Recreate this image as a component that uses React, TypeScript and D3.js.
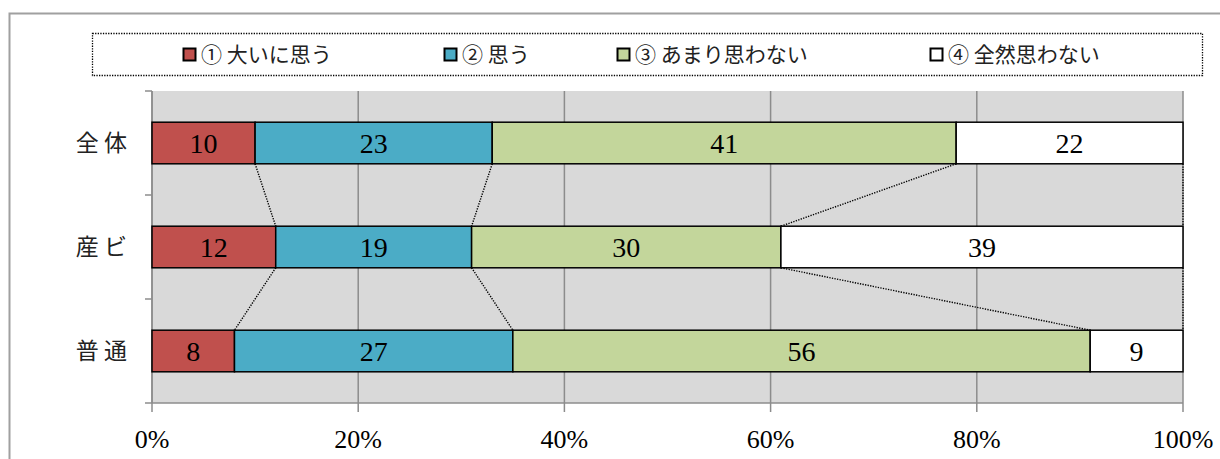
import React from "react";
import * as d3 from "d3";

const categories = ["全 体", "産 ビ", "普 通"];
const seriesNames = ["① 大いに思う", "② 思う", "③ あまり思わない", "④ 全然思わない"];
const seriesColors = ["#c0504d", "#4bacc6", "#c3d69b", "#ffffff"];
// bar lengths (percent) as drawn in the picture
const barValues = [
  [10, 23, 45, 22],
  [12, 19, 30, 39],
  [8, 27, 56, 9],
];
// data labels as printed in the picture
const labelValues = [
  [10, 23, 41, 22],
  [12, 19, 30, 39],
  [8, 27, 56, 9],
];
const xTicks = [0, 20, 40, 60, 80, 100];
const legendX = [183, 444, 617, 930];

const W = 1220;
const H = 459;
const plot = { left: 152, right: 1183, top: 91, bottom: 403 };
const serifFont = "'Liberation Serif', 'DejaVu Serif', serif";
const jpFont = "'Noto Sans CJK JP', sans-serif";

export default function App() {
  const x = d3.scaleLinear().domain([0, 100]).range([plot.left, plot.right]);
  const y = d3.scaleBand().domain(categories).range([plot.top, plot.bottom]).paddingInner(0.6).paddingOuter(0.3);
  const band = d3.scaleBand().domain(categories).range([plot.top, plot.bottom]);

  const stacked = barValues.map((row, i) => {
    let acc = 0;
    return row.map((v, j) => {
      const s = acc;
      acc += v;
      return { start: s, end: acc, label: labelValues[i][j] };
    });
  });

  const seriesLines: { x1: number; y1: number; x2: number; y2: number }[] = [];
  for (let i = 0; i < categories.length - 1; i++) {
    for (let j = 0; j < seriesNames.length; j++) {
      const a = stacked[i][j].end;
      const b = stacked[i + 1][j].end;
      seriesLines.push({
        x1: x(a),
        y1: (y(categories[i]) as number) + y.bandwidth(),
        x2: x(b),
        y2: y(categories[i + 1]) as number,
      });
    }
  }

  const bandEdges = [...categories.map((c) => band(c) as number), plot.bottom];

  return (
    <svg width={W} height={H} style={{ position: "absolute", left: 0, top: 0 }}>
      <rect x={0} y={0} width={W} height={H} fill="#fff" />
      <rect x={9.5} y={13.5} width={W + 10} height={H + 10} fill="none" stroke="#a0a0a0" strokeWidth={2} />
      {/* legend */}
      <rect x={92.5} y={33.5} width={1110} height={42} fill="none" stroke="#000" strokeWidth={1.3} strokeDasharray="1.3,1.3" />
      {seriesNames.map((s, i) => (
        <g key={s}>
          <rect x={legendX[i] + 0.5} y={48.5} width={12} height={12} fill={seriesColors[i]} stroke="#000" strokeWidth={2} />
          <text x={legendX[i] + 18} y={62} fontFamily={jpFont} fontSize={21} fill="#222">
            {s}
          </text>
        </g>
      ))}
      {/* plot */}
      <rect x={plot.left} y={plot.top} width={plot.right - plot.left} height={plot.bottom - plot.top} fill="#d9d9d9" />
      {xTicks.map((t) => (
        <line key={t} x1={x(t)} x2={x(t)} y1={plot.top} y2={plot.bottom + 9} stroke="#8c8c8c" strokeWidth={1.5} />
      ))}
      <line x1={plot.left} x2={plot.right} y1={plot.bottom} y2={plot.bottom} stroke="#8c8c8c" strokeWidth={1.5} />
      <line x1={plot.left} x2={plot.left} y1={plot.top} y2={plot.bottom} stroke="#8c8c8c" strokeWidth={1.5} />
      {bandEdges.map((e, i) => (
        <line key={i} x1={plot.left - 7} x2={plot.left} y1={e} y2={e} stroke="#8c8c8c" strokeWidth={1.5} />
      ))}
      {seriesLines.map((l, i) => (
        <line key={i} x1={l.x1} y1={l.y1} x2={l.x2} y2={l.y2} stroke="#000" strokeWidth={1.4} strokeDasharray="1.3,1.3" />
      ))}
      {categories.map((c, i) => (
        <g key={c}>
          {stacked[i].map((d, j) => (
            <g key={j}>
              <rect
                x={x(d.start)}
                y={y(c)}
                width={x(d.end) - x(d.start)}
                height={y.bandwidth()}
                fill={seriesColors[j]}
                stroke="#000"
                strokeWidth={1.5}
              />
              <text
                x={(x(d.start) + x(d.end)) / 2}
                y={(y(c) as number) + y.bandwidth() / 2 + 10}
                textAnchor="middle"
                fontFamily={serifFont}
                fontSize={28}
                fill="#000"
              >
                {d.label}
              </text>
            </g>
          ))}
          <text
            x={127}
            y={(y(c) as number) + y.bandwidth() / 2 + 8}
            textAnchor="end"
            fontFamily={jpFont}
            fontSize={23}
            fill="#222"
          >
            {c}
          </text>
        </g>
      ))}
      {xTicks.map((t) => (
        <text key={t} x={x(t)} y={448} textAnchor="middle" fontFamily={serifFont} fontSize={26} fill="#000">
          {t}%
        </text>
      ))}
    </svg>
  );
}
